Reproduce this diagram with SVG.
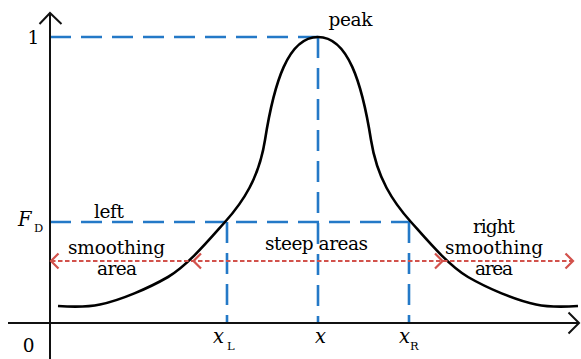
<svg xmlns="http://www.w3.org/2000/svg" width="581" height="359" viewBox="0 0 581 359">
<style>
.ax{stroke:#111;stroke-width:2;fill:none}
.blue{stroke:#2479c7;stroke-width:2.6;fill:none;stroke-dasharray:21 10}
.red{stroke:#d2524c;stroke-width:2.2;fill:none;stroke-dasharray:4.5 2.5}
.redh{stroke:#d2524c;stroke-width:2.2;fill:none}
.crv{stroke:#000;stroke-width:2.6;fill:none}
.t{font-family:'DejaVu Serif','Liberation Serif',serif;fill:#000;font-size:18.5px}
.it{font-style:italic;font-size:19.5px}
.sub{font-size:11.5px}
</style>
<rect width="581" height="359" fill="#fff"/>
<g id="guides">
<path class="blue" d="M50,37 H318"/>
<path class="blue" d="M318,37 V323"/>
<path class="blue" d="M50,222 H410"/>
<path class="blue" d="M227,222 V323"/>
<path class="blue" d="M409,222 V323"/>
</g>
<g id="axes">
<path class="ax" d="M50,13 V359"/>
<path class="ax" d="M39.5,24 L50,13 L61.5,24"/>
<path class="ax" d="M8,323 H579"/>
<path class="ax" d="M568.5,312.5 L579,323 L568.5,333.5"/>
</g>
<g id="curve">
<path class="crv" d="M58,306 C72,307 86,307.5 100,304.5 C120,300.5 149,288 168,277 C188,265 208,241 225,222 C243,202 259,178 265,140 C274,83 288,37 318,37 C348,37 362,83 371,140 C377,178 393,202 411,222 C428,241 448,265 468,277 C487,288 516,300.5 536,304.5 C550,307.5 564,307 578,306"/>
</g>
<g id="connectors">
<path class="red" d="M51,261 H573"/>
<path class="redh" d="M58.5,253.5 L51,261 L58.5,268.5"/>
<path class="redh" d="M201,253.5 L193.5,261 L201,268.5"/>
<path class="redh" d="M435,253.5 L442.5,261 L435,268.5"/>
<path class="redh" d="M565.5,253.5 L573,261 L565.5,268.5"/>
</g>
<g id="labels" class="t">
<text x="33.5" y="44" text-anchor="middle">1</text>
<text x="28.7" y="352" text-anchor="middle">0</text>
<text x="18" y="226" class="it">F</text><text x="34" y="232" class="sub">D</text>
<text x="213" y="343" class="it">x</text><text x="227" y="350" class="sub">L</text>
<text x="315" y="343" class="it">x</text>
<text x="399" y="343" class="it">x</text><text x="410" y="350" class="sub">R</text>
</g>
<g id="peak" class="t"><text x="350.5" y="26" text-anchor="middle" textLength="44">peak</text></g>
<g id="left-smoothing" class="t">
<text x="109" y="218" text-anchor="middle" textLength="30">left</text>
<text x="116.5" y="254" text-anchor="middle" textLength="97">smoothing</text>
<text x="117" y="275" text-anchor="middle" textLength="40">area</text>
</g>
<g id="steep" class="t"><text x="316.5" y="250" text-anchor="middle" textLength="103">steep areas</text></g>
<g id="right-smoothing" class="t">
<text x="494" y="233" text-anchor="middle" textLength="42">right</text>
<text x="494" y="254" text-anchor="middle" textLength="98">smoothing</text>
<text x="494" y="275" text-anchor="middle" textLength="38">area</text>
</g>
</svg>
